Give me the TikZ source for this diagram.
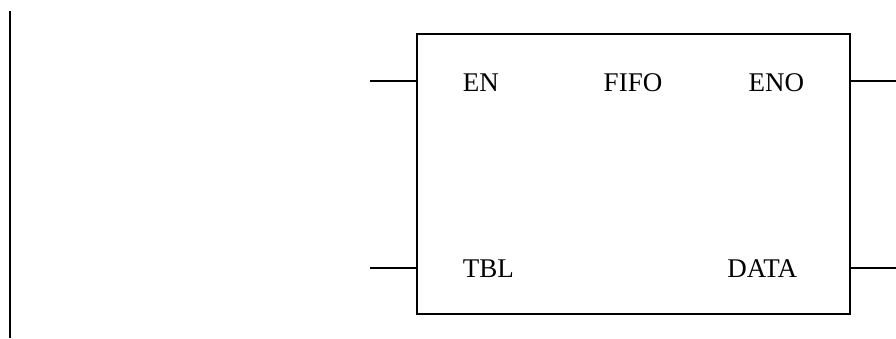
\documentclass[tikz,border=0pt]{standalone}
\usepackage{fontspec}
\setmainfont{Liberation Serif}
\begin{document}
\begin{tikzpicture}[x=1pt, y=-1pt, line width=1.6pt,
        pin/.style={font=\fontsize{27}{32}\selectfont, inner sep=0pt}]
        \useasboundingbox (0,0) rectangle (896,338);

        % power rail
        \draw [line width=2pt] (10,11) -- (10,338);

        % box
        \node (fifo) [draw, rectangle, minimum width=433pt, minimum height=280pt, inner sep=0pt] at (633.5,174) {};

        \node (en) [pin, anchor=west] at (462,83) {EN};
        \node (name) [pin] at (633,83) {FIFO};
        \node (eno) [pin, anchor=east] at (805,83) {ENO};
        \node (tbl) [pin, anchor=west] at (462,269) {TBL};
        \node (data) [pin, anchor=east] at (798,269) {DATA};

        \coordinate (enin) at (370,81);
        \coordinate (tblin) at (370,268);
        \coordinate (enoout) at (896,81);
        \coordinate (dataout) at (896,268);

        \draw (enin) -- (enin -| fifo.west);
        \draw (tblin) -- (tblin -| fifo.west);
        \draw (enoout -| fifo.east) -- (enoout);
        \draw (dataout -| fifo.east) -- (dataout);
    \end{tikzpicture}
\end{document}
